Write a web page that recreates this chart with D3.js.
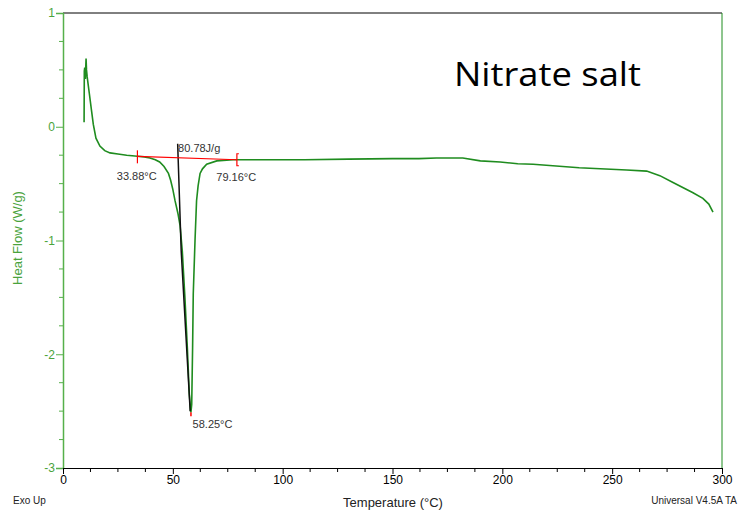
<!DOCTYPE html>
<html><head><meta charset="utf-8">
<script src="https://cdn.jsdelivr.net/npm/d3@7"></script>
<style>
html,body{margin:0;padding:0;background:#fff;}
svg{display:block;font-family:"Liberation Sans",Arial,sans-serif;}
</style></head>
<body>
<svg id="chart" width="738" height="510"></svg>
<script>
// ---- data ----
const temperature = [9.6, 9.7, 9.9, 10.2, 10.4, 10.5, 10.7, 11.0, 11.4, 12.0, 13.0, 13.8, 15.0, 16.8, 19.0, 21.4, 25.0, 29.0, 33.9, 37.0, 39.6, 42.0, 44.0, 46.0, 48.0, 49.0, 50.0, 51.0, 52.3, 53.3, 54.3, 55.5, 56.6, 57.5, 58.1, 58.25, 58.6, 59.0, 59.3, 60.1, 60.8, 61.5, 62.4, 63.5, 65.4, 70.0, 77.4, 90, 110, 130, 150, 162, 170, 182, 190, 199, 207, 214, 235, 256.6, 265.7, 271.7, 277.7, 286.8, 291.3, 294.0, 295.9];
const heatFlow = [0.04, 0.49, 0.52, 0.42, 0.55, 0.60, 0.50, 0.44, 0.38, 0.29, 0.14, 0.02, -0.10, -0.17, -0.21, -0.23, -0.24, -0.25, -0.26, -0.265, -0.275, -0.29, -0.31, -0.35, -0.41, -0.47, -0.55, -0.65, -0.76, -0.87, -1.09, -1.50, -1.94, -2.35, -2.50, -2.51, -2.44, -1.94, -1.47, -1.00, -0.65, -0.52, -0.41, -0.37, -0.33, -0.30, -0.29, -0.29, -0.29, -0.285, -0.28, -0.28, -0.275, -0.275, -0.30, -0.31, -0.325, -0.33, -0.36, -0.38, -0.39, -0.43, -0.49, -0.58, -0.63, -0.68, -0.75];
// integration baseline (onset -> endset)
const baselineT = [33.88, 79.16];
const baselineV = [-0.26, -0.29];
// drop line for peak area
const dropT = [52.2, 53.8, 57.9];
const dropV = [-0.15, -1.09, -2.50];
const peakT = 58.25, peakV = -2.51;
const annotations = [
  {text: "33.88°C", t: 24.5, v: -0.44},
  {text: "79.16°C", t: 69.8, v: -0.45},
  {text: "80.78J/g", t: 52.4, v: -0.195},
  {text: "58.25°C", t: 59.0, v: -2.625}
];
const xTicks = [0, 50, 100, 150, 200, 250, 300];
const yTicks = [-3, -2, -1, 0, 1];

// ---- layout ----
const svg = d3.select("#chart");
const L = 63, R = 722, T = 13, B = 468;
const x = d3.scaleLinear().domain([0, 300]).range([L, R]);
const y = d3.scaleLinear().domain([-3, 1]).range([B, T]);
const green = "#1f8c1f", axisGreen = "#56b04a", labelGreen = "#4aa33c";

// frame: top black, right green
svg.append("line").attr("x1", L).attr("x2", R).attr("y1", T).attr("y2", T).attr("stroke", "#000").attr("stroke-width", 1);
svg.append("line").attr("x1", R).attr("x2", R).attr("y1", T).attr("y2", B).attr("stroke", green).attr("stroke-width", 1);

// y axis
const yAxis = d3.axisLeft(y).tickValues(yTicks).tickSize(7).tickFormat(d3.format("d"));
const gy = svg.append("g").attr("transform", `translate(${L},0)`).call(yAxis);
gy.select(".domain").attr("stroke", axisGreen).attr("stroke-width", 1.5);
gy.selectAll(".tick line").attr("stroke", axisGreen);
gy.selectAll(".tick text").attr("fill", labelGreen).attr("font-size", 12).attr("x", -8)
  .attr("font-family", "Liberation Sans, Arial, sans-serif").text(d => d < 0 ? "-" + Math.abs(d) : d);
const yMinor = d3.range(-3, 1.001, 0.25).filter(v => Math.abs(v - Math.round(v)) > 1e-6);
svg.append("g").selectAll("line").data(yMinor).join("line")
  .attr("x1", L - 4).attr("x2", L).attr("y1", d => y(d)).attr("y2", d => y(d)).attr("stroke", axisGreen);

// x axis
const xAxis = d3.axisBottom(x).tickValues(xTicks).tickSize(6).tickFormat(d3.format("d"));
const gx = svg.append("g").attr("transform", `translate(0,${B})`).call(xAxis);
gx.select(".domain").attr("stroke", "#000");
gx.selectAll(".tick text").attr("fill", "#000").attr("font-size", 12).attr("dy", "0.55em")
  .attr("font-family", "Liberation Sans, Arial, sans-serif");
const xMinor = d3.range(0, 300.001, 12.5).filter(v => v % 50 !== 0);
svg.append("g").selectAll("line").data(xMinor).join("line")
  .attr("x1", d => x(d)).attr("x2", d => x(d)).attr("y1", B).attr("y2", B + 4).attr("stroke", "#000");

// main curve
const pts = temperature.map((t, i) => [t, heatFlow[i]]);
const line = d3.line().x(d => x(d[0])).y(d => y(d[1]));
svg.append("path").datum(pts).attr("d", line).attr("fill", "none").attr("stroke", green).attr("stroke-width", 1.6);

// drop line
svg.append("path").datum(dropT.map((t, i) => [t, dropV[i]])).attr("d", line)
  .attr("fill", "none").attr("stroke", "#111").attr("stroke-width", 1.5);

// red baseline
const bl = baselineT.map((t, i) => [t, baselineV[i]]);
svg.append("path").datum(bl).attr("d", line).attr("fill", "none").attr("stroke", "#f00").attr("stroke-width", 1.2);
// onset marker
svg.append("line").attr("x1", x(baselineT[0])).attr("x2", x(baselineT[0]))
  .attr("y1", y(baselineV[0]) - 6).attr("y2", y(baselineV[0]) + 7).attr("stroke", "#f00").attr("stroke-width", 1.2);
// endset bracket
const ex = x(baselineT[1]), ey = y(baselineV[1]);
svg.append("path").attr("d", `M${ex + 2},${ey - 6} L${ex},${ey - 6} L${ex},${ey + 6} L${ex + 2},${ey + 6}`)
  .attr("fill", "none").attr("stroke", "#f00").attr("stroke-width", 1.2);
// peak marker
svg.append("line").attr("x1", x(peakT)).attr("x2", x(peakT)).attr("y1", y(peakV)).attr("y2", y(peakV) + 4)
  .attr("stroke", "#f00").attr("stroke-width", 1.5);

// annotations
svg.append("g").selectAll("text").data(annotations).join("text")
  .attr("x", d => x(d.t)).attr("y", d => y(d.v)).attr("font-size", 11).attr("fill", "#333")
  .attr("dominant-baseline", "middle").text(d => d.text);

// axis titles
svg.append("text").attr("x", 393).attr("y", 507).attr("text-anchor", "middle").attr("font-size", 13)
  .attr("fill", "#222").text("Temperature (°C)");
svg.append("text").attr("transform", "translate(22,238) rotate(-90)").attr("text-anchor", "middle")
  .attr("font-size", 13).attr("fill", labelGreen).text("Heat Flow (W/g)");
svg.append("text").attr("x", 13).attr("y", 504).attr("font-size", 10).attr("fill", "#222")
  .attr("font-family", "Liberation Sans Narrow, Liberation Sans, Arial, sans-serif").text("Exo Up");
svg.append("text").attr("x", 737).attr("y", 504).attr("text-anchor", "end").attr("font-size", 10).attr("fill", "#222")
  .attr("font-family", "Liberation Sans Narrow, Liberation Sans, Arial, sans-serif").text("Universal V4.5A TA");

// title-ish label
svg.append("text").attr("x", 454).attr("y", 86).attr("font-size", 33).attr("fill", "#000")
  .attr("font-family", "Open Sans, Noto Sans, sans-serif")
  .attr("textLength", 187).attr("lengthAdjust", "spacingAndGlyphs").text("Nitrate salt");
</script>
</body></html>
